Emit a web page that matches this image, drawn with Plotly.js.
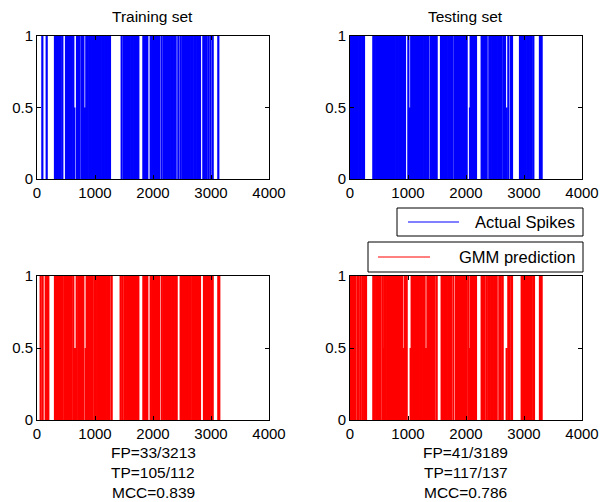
<!DOCTYPE html>
<html>
<head>
<meta charset="utf-8">
<script src="https://cdn.plot.ly/plotly-3.0.1.min.js"></script>
<style>html,body{margin:0;padding:0;background:#fff;}#chart{width:600px;height:502px;}</style>
</head>
<body>
<div id="chart"></div>
<script>
// ---- Data (spike times) ----
const xTicks = [0, 1000, 2000, 3000, 4000];
const yTicks = [0, 0.5, 1];
const yTickText = ['0', '0.5', '1'];

// Training set, actual spikes (height 1) and half-height marks (0.5)
const trainActual = [92, 167, 310, 335, 360, 385, 408, 437, 500, 525, 550, 575, 600, 626, 690, 712, 735, 775, 800, 850, 875, 900, 925, 950, 975, 1000, 1025, 1050, 1075, 1100, 1125, 1150, 1175, 1200, 1225, 1258, 1460, 1500, 1525, 1550, 1575, 1600, 1625, 1650, 1675, 1700, 1725, 1747, 1834, 1858, 1880, 1902, 1960, 1985, 2010, 2035, 2060, 2085, 2109, 2150, 2190, 2215, 2240, 2265, 2290, 2315, 2340, 2365, 2390, 2437, 2477, 2510, 2535, 2560, 2585, 2610, 2635, 2660, 2684, 2712, 2737, 2762, 2787, 2810, 2868, 2893, 2918, 2954, 2990, 3029, 3126];
const trainActualHalf = [644, 828];

// Training set, GMM prediction
const trainPred = [63, 97, 150, 175, 195, 310, 335, 360, 385, 414, 440, 471, 500, 525, 546, 569, 595, 626, 684, 712, 730, 759, 780, 799, 856, 880, 905, 930, 955, 988, 1012, 1037, 1062, 1087, 1112, 1137, 1162, 1187, 1212, 1230, 1250, 1287, 1442, 1471, 1506, 1530, 1555, 1580, 1605, 1630, 1655, 1680, 1705, 1730, 1747, 1834, 1858, 1880, 1902, 1960, 1985, 2010, 2035, 2060, 2085, 2103, 2150, 2178, 2207, 2232, 2257, 2282, 2307, 2332, 2357, 2382, 2408, 2477, 2502, 2527, 2552, 2577, 2602, 2627, 2652, 2684, 2707, 2732, 2757, 2782, 2810, 2879, 2904, 2929, 2954, 2979, 3004, 3029, 3126, 3143];
const trainPredHalf = [655, 839];

// Testing set, actual spikes
const testActual = [11, 35, 57, 86, 110, 135, 160, 185, 210, 241, 402, 427, 452, 477, 502, 527, 552, 575, 603, 628, 653, 678, 707, 727, 747, 772, 797, 822, 847, 872, 897, 922, 948, 1006, 1055, 1080, 1105, 1130, 1155, 1180, 1205, 1230, 1255, 1280, 1305, 1330, 1350, 1391, 1416, 1441, 1466, 1494, 1569, 1594, 1619, 1644, 1669, 1694, 1719, 1744, 1770, 1810, 1839, 1864, 1889, 1914, 1939, 1964, 1989, 2011, 2080, 2105, 2130, 2150, 2172, 2270, 2295, 2320, 2339, 2356, 2402, 2427, 2452, 2477, 2500, 2529, 2554, 2586, 2610, 2644, 2672, 2730, 2775, 2793, 2931, 2956, 2981, 3006, 3031, 3056, 3081, 3106, 3131, 3161, 3275, 3304];
const testActualHalf = [592, 1034, 2069, 2701];

// Testing set, GMM prediction
const testPred = [11, 35, 60, 86, 126, 150, 184, 218, 245, 276, 402, 427, 452, 477, 502, 527, 563, 592, 617, 642, 667, 690, 718, 743, 768, 793, 818, 843, 862, 879, 902, 948, 977, 1063, 1088, 1113, 1138, 1163, 1188, 1207, 1236, 1261, 1286, 1335, 1355, 1379, 1408, 1433, 1458, 1494, 1580, 1605, 1638, 1667, 1692, 1717, 1742, 1782, 1828, 1853, 1878, 1897, 1908, 1933, 1958, 1983, 2008, 2040, 2080, 2105, 2130, 2150, 2172, 2270, 2295, 2320, 2356, 2385, 2410, 2435, 2460, 2485, 2510, 2529, 2575, 2600, 2632, 2730, 2755, 2793, 2960, 2985, 3010, 3035, 3060, 3085, 3110, 3135, 3172, 3275, 3304];
const testPredHalf = [586, 920, 1046, 1310, 2069, 2701];

const panelTitles = ['Training set', 'Testing set'];
const legendNames = ['Actual Spikes', 'GMM prediction'];
const trainStats = ['FP=33/3213', 'TP=105/112', 'MCC=0.839'];
const testStats = ['FP=41/3189', 'TP=117/137', 'MCC=0.786'];

// ---- Build ----
const W = 600, H = 502;
const px = v => v / W;
const py = v => 1 - v / H;
const FONT = 'Liberation Sans, Arial, sans-serif';

function spikeTrace(full, half, color, xa, ya, name) {
  const x = [], y = [];
  full.forEach(t => { x.push(t, t, null); y.push(0, 1, null); });
  half.forEach(t => { x.push(t, t, null); y.push(0, 0.5, null); });
  return {type: 'scatter', mode: 'lines', x: x, y: y, xaxis: xa, yaxis: ya,
          line: {color: color, width: 2.2}, hoverinfo: 'skip', showlegend: false, name: name};
}

const traces = [
  spikeTrace(trainActual, trainActualHalf, '#0000ff', 'x', 'y', legendNames[0]),
  spikeTrace(testActual, testActualHalf, '#0000ff', 'x2', 'y2', legendNames[0]),
  spikeTrace(trainPred, trainPredHalf, '#ff0000', 'x3', 'y3', legendNames[1]),
  spikeTrace(testPred, testPredHalf, '#ff0000', 'x4', 'y4', legendNames[1])
];

function xax(domain, anchor) {
  return {domain: domain, anchor: anchor, range: [0, 4000], tickvals: xTicks,
    ticktext: xTicks.map(String), ticks: 'inside', ticklen: 4, tickcolor: '#000',
    showline: true, linecolor: '#000', linewidth: 1, mirror: 'ticks',
    showgrid: false, zeroline: false, tickfont: {family: FONT, size: 15, color: '#000'}, fixedrange: true};
}
function yax(domain, anchor) {
  return {domain: domain, anchor: anchor, range: [0, 1], tickvals: yTicks,
    ticktext: yTickText, ticks: 'inside', ticklen: 4, tickcolor: '#000',
    showline: true, linecolor: '#000', linewidth: 1, mirror: 'ticks',
    showgrid: false, zeroline: false, tickfont: {family: FONT, size: 15, color: '#000'}, fixedrange: true};
}

const xL = [px(37), px(269)], xR = [px(350), px(582)];
const yT = [py(179), py(36)], yB = [py(420), py(276)];

const annotations = [];
function addText(text, x, y, xanchor, size) {
  annotations.push({text: text, xref: 'paper', yref: 'paper', x: px(x), y: py(y),
    xanchor: xanchor, yanchor: 'middle', showarrow: false,
    font: {family: FONT, size: size, color: '#000'}});
}
addText(panelTitles[0], 152, 17, 'center', 15.5);
addText(panelTitles[1], 465, 17, 'center', 15.5);
trainStats.forEach((s, i) => addText(s, 153, 452 + 20 * i, 'center', 15.5));
testStats.forEach((s, i) => addText(s, 466, 452 + 20 * i, 'center', 15.5));
addText(legendNames[0], 577, 222, 'right', 16.5);
addText(legendNames[1], 577, 257, 'right', 16.5);

const shapes = [
  {type: 'rect', xref: 'paper', yref: 'paper', x0: px(397), x1: px(583), y0: py(236), y1: py(208),
   line: {color: '#000', width: 1}, fillcolor: '#fff'},
  {type: 'line', xref: 'paper', yref: 'paper', x0: px(408), x1: px(459), y0: py(222), y1: py(222),
   line: {color: '#0000ff', width: 1}},
  {type: 'rect', xref: 'paper', yref: 'paper', x0: px(368), x1: px(583), y0: py(272), y1: py(242),
   line: {color: '#000', width: 1}, fillcolor: '#fff'},
  {type: 'line', xref: 'paper', yref: 'paper', x0: px(378), x1: px(430), y0: py(257), y1: py(257),
   line: {color: '#ff0000', width: 1}}
];

const layout = {
  width: W, height: H, margin: {l: 0, r: 0, t: 0, b: 0},
  paper_bgcolor: '#fff', plot_bgcolor: '#fff', showlegend: false,
  xaxis: xax(xL, 'y'), yaxis: yax(yT, 'x'),
  xaxis2: xax(xR, 'y2'), yaxis2: yax(yT, 'x2'),
  xaxis3: xax(xL, 'y3'), yaxis3: yax(yB, 'x3'),
  xaxis4: xax(xR, 'y4'), yaxis4: yax(yB, 'x4'),
  annotations: annotations, shapes: shapes,
  font: {family: FONT, color: '#000'}
};

Plotly.newPlot('chart', traces, layout, {staticPlot: true, displayModeBar: false});
</script>
</body>
</html>
